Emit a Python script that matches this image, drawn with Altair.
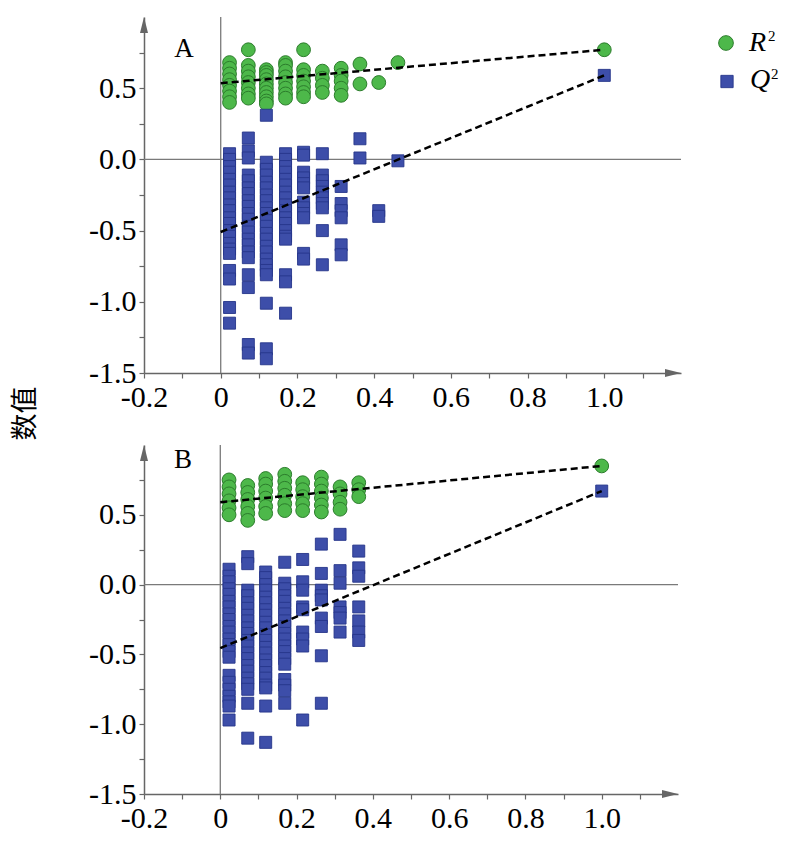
import altair as alt
import pandas as pd

# permutation-test columns (x positions of the permuted models)
cols_x = [0.023, 0.072, 0.119, 0.169, 0.216, 0.265, 0.314, 0.363, 0.412, 0.462]

# ---------- Panel A ----------
a_r2 = [
    [0.68, 0.64, 0.60, 0.56, 0.52, 0.48, 0.44, 0.40],
    [0.77, 0.66, 0.62, 0.58, 0.54, 0.50, 0.46, 0.43],
    [0.63, 0.61, 0.59, 0.56, 0.53, 0.50, 0.47, 0.44, 0.41, 0.39],
    [0.68, 0.66, 0.62, 0.58, 0.54, 0.50, 0.46, 0.43],
    [0.77, 0.63, 0.59, 0.55, 0.51, 0.47, 0.44],
    [0.62, 0.57, 0.52, 0.47],
    [0.64, 0.59, 0.55, 0.50, 0.45],
    [0.67, 0.53],
    [0.54],
    [0.68],
]
a_q2 = [
    [0.04, 0.00, -0.05, -0.09, -0.14, -0.18, -0.23, -0.27, -0.32, -0.36, -0.41, -0.45,
     -0.50, -0.54, -0.59, -0.63, -0.66, -0.78, -0.84, -1.04, -1.15],
    [0.15, 0.06, 0.01, -0.11, -0.15, -0.20, -0.24, -0.29, -0.33, -0.38, -0.42, -0.47,
     -0.51, -0.56, -0.60, -0.65, -0.69, -0.81, -0.90, -1.30, -1.36],
    [0.31, -0.02, -0.07, -0.11, -0.16, -0.20, -0.25, -0.29, -0.34, -0.38, -0.43, -0.47,
     -0.52, -0.56, -0.61, -0.65, -0.70, -0.74, -0.78, -0.81, -1.01, -1.33, -1.40],
    [0.04, 0.00, -0.05, -0.09, -0.14, -0.18, -0.23, -0.27, -0.32, -0.36, -0.41, -0.45,
     -0.50, -0.54, -0.56, -0.81, -0.86, -1.08],
    [0.05, 0.03, -0.09, -0.13, -0.17, -0.20, -0.30, -0.34, -0.38, -0.41, -0.66, -0.70],
    [0.04, -0.11, -0.15, -0.19, -0.23, -0.27, -0.31, -0.34, -0.50, -0.74],
    [-0.19, -0.31, -0.36, -0.41, -0.60, -0.67],
    [0.145, 0.01],
    [-0.36, -0.40],
    [-0.01],
]
a_r2_end = 0.77
a_q2_end = 0.59
a_r2_line = [0.535, 0.77]
a_q2_line = [-0.51, 0.59]

# ---------- Panel B ----------
b_r2 = [
    [0.75, 0.70, 0.65, 0.60, 0.55, 0.50],
    [0.71, 0.66, 0.61, 0.56, 0.51, 0.46],
    [0.76, 0.72, 0.67, 0.62, 0.56, 0.51],
    [0.79, 0.74, 0.69, 0.64, 0.58, 0.53],
    [0.73, 0.68, 0.63, 0.58, 0.53],
    [0.77, 0.72, 0.67, 0.62, 0.57, 0.52],
    [0.70, 0.65, 0.59, 0.54],
    [0.73, 0.68, 0.63],
]
b_q2 = [
    [0.11, 0.06, 0.02, -0.03, -0.07, -0.12, -0.16, -0.21, -0.25, -0.30, -0.34, -0.39,
     -0.43, -0.48, -0.52, -0.65, -0.70, -0.75, -0.80, -0.84, -0.87, -0.97],
    [0.20, 0.15, -0.04, -0.08, -0.13, -0.17, -0.22, -0.26, -0.31, -0.35, -0.40, -0.44,
     -0.49, -0.53, -0.58, -0.62, -0.67, -0.71, -0.75, -0.85, -1.10],
    [0.09, 0.05, 0.00, -0.04, -0.09, -0.13, -0.18, -0.22, -0.27, -0.31, -0.36, -0.40,
     -0.45, -0.49, -0.54, -0.58, -0.63, -0.67, -0.72, -0.74, -0.87, -1.13],
    [0.16, 0.01, -0.03, -0.08, -0.12, -0.17, -0.21, -0.26, -0.30, -0.35, -0.39, -0.44,
     -0.48, -0.53, -0.57, -0.68, -0.72, -0.76, -0.85],
    [0.18, 0.02, -0.04, -0.16, -0.18, -0.34, -0.39, -0.44, -0.97],
    [0.29, 0.08, -0.04, -0.08, -0.11, -0.24, -0.30, -0.51, -0.85],
    [0.36, 0.10, 0.01, -0.16, -0.20, -0.24, -0.34],
    [0.24, 0.12, 0.06, -0.16, -0.26, -0.34, -0.40],
]
b_r2_end = 0.85
b_q2_end = 0.67
b_r2_line = [0.59, 0.85]
b_q2_line = [-0.455, 0.67]

reg_x = [0.0, 1.0]
end_x = 1.0

x_ticks = [round(-0.2 + 0.1 * i, 1) for i in range(14)]
y_ticks = [round(-1.5 + 0.25 * i, 2) for i in range(10)]

GREEN = "#4db84a"
GREEN_EDGE = "#2c7d2c"
BLUE = "#3d4ea9"
BLUE_EDGE = "#26368a"
AXIS_GRAY = "#666666"
SERIF = "Liberation Serif, Times New Roman, serif"

UP_ARROW = "M0,-1L-0.5,1L0.5,1Z"
RIGHT_ARROW = "M1,0L-1,-0.5L-1,0.5Z"

one = pd.DataFrame({"k": [0]})


def panel(r2_cols, q2_cols, r2_end, q2_end, r2_line, q2_line, tag, tag_xy, w, h,
          legend=False, ytitle=False):
    rows = []
    for x, vals in zip(cols_x, r2_cols):
        for v in vals:
            rows.append({"x": x, "y": v, "s": "R2"})
    rows.append({"x": end_x, "y": r2_end, "s": "R2"})
    for x, vals in zip(cols_x, q2_cols):
        for v in vals:
            rows.append({"x": x, "y": v, "s": "Q2"})
    rows.append({"x": end_x, "y": q2_end, "s": "Q2"})
    df = pd.DataFrame(rows)

    lines = pd.DataFrame({
        "x": reg_x + reg_x,
        "y": r2_line + q2_line,
        "s": ["R2", "R2", "Q2", "Q2"],
    })

    xs = alt.Scale(domain=[-0.2, 1.2], nice=False, zero=False)
    ys = alt.Scale(domain=[-1.5, 1.0], nice=False, zero=False)

    common = dict(labelFont=SERIF, labelFontSize=30, labelColor="black")
    xaxis = alt.Axis(
        values=x_ticks, title=None, labelPadding=4,
        labelExpr="abs(round(datum.value*10)) % 2 == 0 ? (datum.value == 0 ? '0' : "
                  "(datum.value < 0 ? '-' : '') + format(abs(datum.value), '.1f')) : ''",
        **common)
    yargs = dict(
        values=y_ticks, labelPadding=3,
        labelExpr="abs(datum.value % 0.5) < 0.001 ? (datum.value < 0 ? '-' : '') + "
                  "format(abs(datum.value), '.1f') : ''",
        **common)
    if ytitle:
        yaxis = alt.Axis(title="数值", titleFont="Noto Sans CJK SC", titleFontSize=27,
                         titleFontWeight="normal", titleColor="black", titleAngle=270,
                         titleX=-119, titleY=396, titleAlign="center",
                         titleBaseline="middle", **yargs)
    else:
        yaxis = alt.Axis(title=None, **yargs)

    X = lambda f="x": alt.X(f"{f}:Q", scale=xs, axis=xaxis)
    Y = lambda f="y": alt.Y(f"{f}:Q", scale=ys, axis=yaxis)

    hrule = alt.Chart(pd.DataFrame({"x": [-0.2], "x2": [1.2], "y": [0.0]})).mark_rule(
        color="#7a7a7a", strokeWidth=1.3).encode(x=X(), x2="x2:Q", y=Y())
    vrule = alt.Chart(pd.DataFrame({"x": [0.0], "y": [-1.5], "y2": [1.0]})).mark_rule(
        color="#7a7a7a", strokeWidth=1.3).encode(x=X(), y=Y(), y2="y2:Q")

    r2pts = alt.Chart(df).transform_filter("datum.s == 'R2'").mark_point(
        shape="circle", filled=True, size=190, fill=GREEN, stroke=GREEN_EDGE,
        strokeWidth=1, opacity=1, fillOpacity=1, strokeOpacity=1).encode(x=X(), y=Y())
    q2pts = alt.Chart(df).transform_filter("datum.s == 'Q2'").mark_point(
        shape="square", filled=True, size=144, fill=BLUE, stroke=BLUE_EDGE,
        strokeWidth=0.9, opacity=1, fillOpacity=1, strokeOpacity=1).encode(x=X(), y=Y())

    reg = alt.Chart(lines).mark_line(color="black", strokeDash=[7, 4], strokeWidth=2.5).encode(
        x=X(), y=Y(), detail="s:N")

    up = alt.Chart(one).mark_point(shape=UP_ARROW, filled=True, size=256, fill=AXIS_GRAY,
                                   opacity=1, strokeWidth=0).encode(
        x=alt.value(0), y=alt.value(8))
    right = alt.Chart(one).mark_point(shape=RIGHT_ARROW, filled=True, size=256, fill=AXIS_GRAY,
                                      opacity=1, strokeWidth=0).encode(
        x=alt.value(w - 8), y=alt.value(h))

    tag_txt = alt.Chart(one).mark_text(font=SERIF, fontSize=27, align="center",
                                       baseline="alphabetic", color="black").encode(
        x=alt.value(tag_xy[0]), y=alt.value(tag_xy[1]), text=alt.value(tag))

    layers = [hrule, vrule, r2pts, q2pts, reg, up, right, tag_txt]

    if legend:
        leg_c = alt.Chart(one).mark_point(shape="circle", filled=True, size=216, fill=GREEN,
                                          stroke=GREEN_EDGE, strokeWidth=1, opacity=1).encode(
            x=alt.value(582), y=alt.value(26))
        leg_s = alt.Chart(one).mark_point(shape="square", filled=True, size=151, fill=BLUE,
                                          stroke=BLUE_EDGE, strokeWidth=0.9, opacity=1).encode(
            x=alt.value(583), y=alt.value(64.5))
        leg_r = alt.Chart(one).mark_text(font=SERIF, fontSize=28, fontStyle="italic",
                                         align="left", baseline="alphabetic", color="black").encode(
            x=alt.value(605), y=alt.value(33.5), text=alt.value("R"))
        leg_r2 = alt.Chart(one).mark_text(font=SERIF, fontSize=15, align="left",
                                          baseline="alphabetic", color="black").encode(
            x=alt.value(624), y=alt.value(23.5), text=alt.value("2"))
        leg_q = alt.Chart(one).mark_text(font=SERIF, fontSize=28, fontStyle="italic",
                                         align="left", baseline="alphabetic", color="black").encode(
            x=alt.value(606), y=alt.value(70.5), text=alt.value("Q"))
        leg_q2 = alt.Chart(one).mark_text(font=SERIF, fontSize=15, align="left",
                                          baseline="alphabetic", color="black").encode(
            x=alt.value(627), y=alt.value(61.5), text=alt.value("2"))
        layers += [leg_c, leg_s, leg_r, leg_r2, leg_q, leg_q2]

    return alt.layer(*layers).properties(width=w, height=h)


pa = panel(a_r2, a_q2, a_r2_end, a_q2_end, a_r2_line, a_q2_line, "A", (40, 40), 537, 356,
           legend=True, ytitle=True)
pb = panel(b_r2, b_q2, b_r2_end, b_q2_end, b_r2_line, b_q2_line, "B", (39, 23), 534, 349)

chart = alt.vconcat(pa, pb, spacing=72, bounds="flush").properties(
    padding={"left": 3, "top": 8, "right": 5, "bottom": 5}
).configure_view(stroke=None).configure_axis(
    domainColor=AXIS_GRAY, domainWidth=1.5, tickColor=AXIS_GRAY, tickWidth=1.2,
    tickSize=5, labelFont=SERIF, labelFontSize=30, labelColor="black",
    grid=False, labelOverlap=False, labelFlush=False, labelBound=False,
)

chart.save("out.html", embed_options={"renderer": "svg", "actions": False})
